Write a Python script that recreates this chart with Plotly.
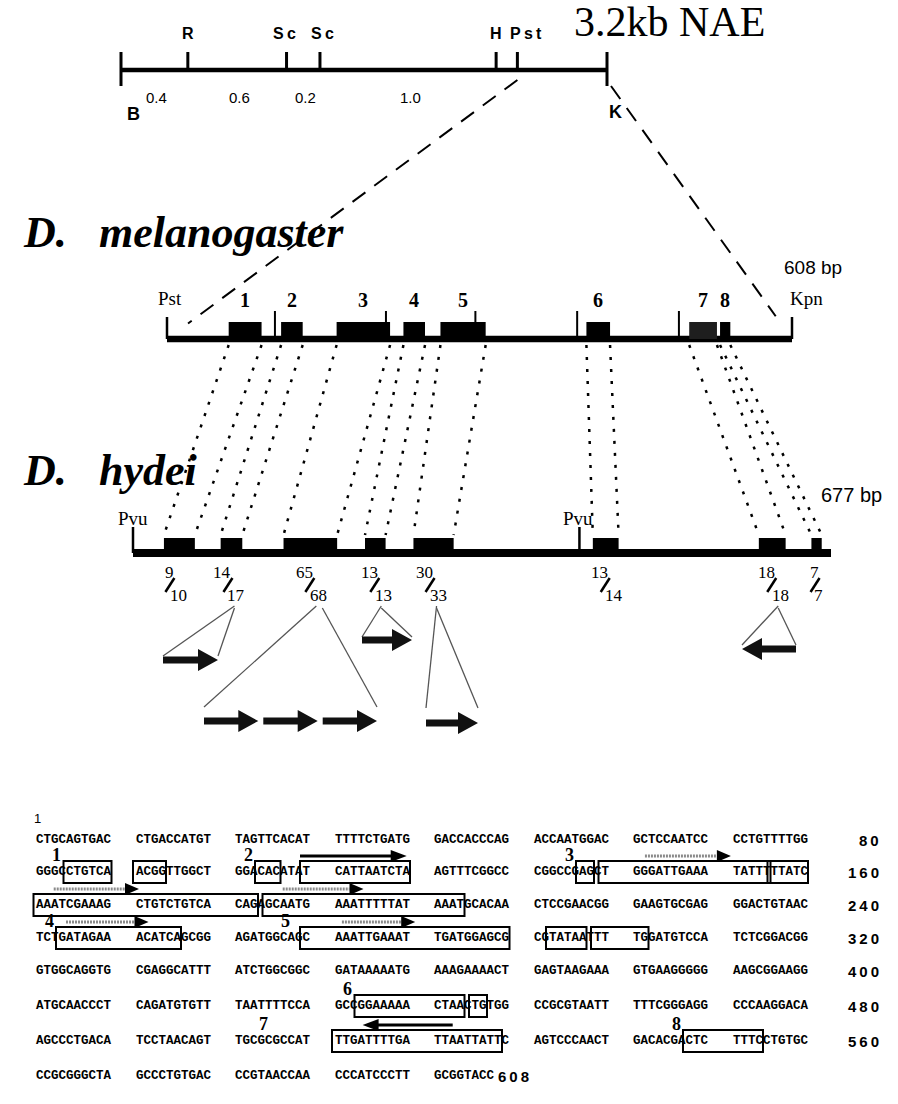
import plotly.graph_objects as go

# ======================= DATA =======================
# Top restriction map of the 3.2 kb NAE fragment (kb from the B end)
map_title = "3.2kb NAE"
map_total_kb = 3.2
map_site_labels = ["R", "Sc", "Sc", "H", "Pst"]
map_site_kb = [0.44, 1.09, 1.31, 2.47, 2.61]
map_segment_labels = ["0.4", "0.6", "0.2", "1.0"]
map_end_labels = ["B", "K"]

# D. melanogaster 608 bp fragment: conserved elements (bp)
mel_name = "melanogaster"
mel_length_bp = 608
mel_elem_labels = ["1", "2", "3", "4", "5", "6", "7", "8"]
mel_elem_start = [60, 111, 165, 230, 266, 408, 508, 538]
mel_elem_end = [92, 132, 217, 251, 310, 431, 535, 548]
mel_site_ticks = [105, 213, 300, 399, 498]
mel_end_labels = ["Pst", "Kpn"]

# D. hydei 677 bp fragment: conserved elements (bp)
hyd_name = "hydei"
hyd_length_bp = 677
hyd_elem_start = [30, 85, 146, 225, 272, 446, 607, 658]
hyd_elem_end = [60, 106, 198, 245, 311, 471, 633, 668]
hyd_pvu_bp = [0, 433]
hyd_copies_top = [9, 14, 65, 13, 30, 13, 18, 7]
hyd_copies_bottom = [10, 17, 68, 13, 33, 14, 18, 7]

# repeated motifs below hydei elements
rep_elem = [1, 2, 3, 4, 6]
rep_count = [1, 3, 1, 1, 1]
rep_dir = [1, 1, 1, 1, -1]

# D. melanogaster sequence
seq_rows = [
    "CTGCAGTGAC CTGACCATGT TAGTTCACAT TTTTCTGATG GACCACCCAG ACCAATGGAC GCTCCAATCC CCTGTTTTGG",
    "GGGCCTGTCA ACGGTTGGCT GGACACATAT CATTAATCTA AGTTTCGGCC CGGCCGAGCT GGGATTGAAA TATTTTTATC",
    "AAATCGAAAG CTGTCTGTCA CAGAGCAATG AAATTTTTAT AAATGCACAA CTCCGAACGG GAAGTGCGAG GGACTGTAAC",
    "TCTGATAGAA ACATCAGCGG AGATGGCAGC AAATTGAAAT TGATGGAGCG CGTATAATTT TGGATGTCCA TCTCGGACGG",
    "GTGGCAGGTG CGAGGCATTT ATCTGGCGGC GATAAAAATG AAAGAAAACT GAGTAAGAAA GTGAAGGGGG AAGCGGAAGG",
    "ATGCAACCCT CAGATGTGTT TAATTTTCCA GCCGGAAAAA CTAACTGTGG CCGCGTAATT TTTCGGGAGG CCCAAGGACA",
    "AGCCCTGACA TCCTAACAGT TGCGCGCCAT TTGATTTTGA TTAATTATTC AGTCCCAACT GACACGACTC TTTCCTGTGC",
    "CCGCGGGCTA GCCCTGTGAC CCGTAACCAA CCCATCCCTT GCGGTACC",
]
seq_row_end = [80, 160, 240, 320, 400, 480, 560, 608]

# boxed conserved stretches in the sequence (bp, inclusive)
box_start_bp = [85, 91, 104, 110, 137, 140, 156, 161, 185, 244, 270, 293, 299, 434, 446, 511, 548]
box_end_bp = [90, 94, 106, 120, 138, 155, 160, 183, 204, 256, 290, 297, 302, 444, 447, 529, 554]

elem_label_text = ["1", "2", "3", "4", "5", "6", "7", "8"]
elem_label_bp = [84, 103, 136, 243, 268, 433, 505, 547]

# motif arrows over boxes (box index, fraction from/to, kind, direction)
motif_box = [3, 5, 7, 8, 9, 10, 15]
motif_from = [0.0, 0.27, 0.09, 0.10, 0.08, 0.20, 0.18]
motif_to = [0.97, 0.77, 0.47, 0.50, 0.74, 0.55, 0.71]
motif_kind = ["solid", "dotted", "dotted", "dotted", "dotted", "dotted", "solid"]
motif_dir = [1, 1, 1, 1, 1, 1, -1]

# ======================= LAYOUT =======================
W, H = 898, 1104
SERIF = "Liberation Serif"
SANS = "Liberation Sans"
MONO = "Liberation Mono"

MAP_X0, MAP_X1, MAP_Y = 121, 607, 70
MEL_X0, MEL_X1, MEL_Y = 167, 792, 339
HYD_X0, HYD_X1, HYD_Y = 133, 831, 553

SEQ_X0, PITCH, SEQ_FONT = 35, 99.5, 12.5
CW = 0.6 * SEQ_FONT
ROW_Y = [840, 872, 905, 938, 971, 1006, 1041, 1076]

hyd_label_shift = [-9, -3, 0, 0, -3, 0, 0, -1]
rep_arrow_y = [660, 721, 640, 723, 649]
rep_span_x0 = [163, 204, 362, 426, 742]
rep_span_x1 = [218, 377, 412, 478, 796]
rep_tri_y = [656, 707, 637, 708, 645]

shapes = []
annotations = []


def line(x0, y0, x1, y1, w=2, color="black", dash=None):
    ln = dict(color=color, width=w)
    if dash:
        ln["dash"] = dash
    shapes.append(dict(type="line", xref="x", yref="y", x0=x0, y0=y0, x1=x1, y1=y1, line=ln))


def rect(x0, y0, x1, y1, fill="black", lc=None, lw=0):
    shapes.append(dict(type="rect", xref="x", yref="y", x0=x0, y0=y0, x1=x1, y1=y1,
                       fillcolor=fill, line=dict(color=lc or fill, width=lw)))


def poly(pts, fill="black"):
    path = "M " + " L ".join(f"{x:.1f},{y:.1f}" for x, y in pts) + " Z"
    shapes.append(dict(type="path", xref="x", yref="y", path=path, fillcolor=fill,
                       line=dict(width=0, color=fill)))


def text(x, y, s, size, family=SANS, xa="center", ya="middle", color="black"):
    annotations.append(dict(x=x, y=y, xref="x", yref="y", text=s, showarrow=False,
                            xanchor=xa, yanchor=ya, borderpad=0,
                            font=dict(size=size, family=family, color=color)))


def arrow_poly(tail, tip, y, sh, hh, hl, color="black"):
    s = 1 if tip > tail else -1
    base = tip - s * hl
    poly([(tail, y - sh), (base, y - sh), (base, y - hh), (tip, y),
          (base, y + hh), (base, y + sh), (tail, y + sh)], color)


def spaced(s):
    return "\u2009".join(s)


# ---------- top map ----------
def kbx(kb):
    return MAP_X0 + kb / map_total_kb * (MAP_X1 - MAP_X0)


text(573, 22, map_title, 42, SERIF, xa="left")
line(MAP_X0, MAP_Y, MAP_X1, MAP_Y, w=4.5)
line(MAP_X0, 52, MAP_X0, 86, w=3)
line(MAP_X1, 52, MAP_X1, 86, w=3)
site_px = [kbx(k) for k in map_site_kb]
for x in site_px:
    line(x, 52, x, MAP_Y, w=3)
label_dx = [0, -2, 3, 0, 9]
for lab, x, dx in zip(map_site_labels, site_px, label_dx):
    text(x + dx, 33, "<b>" + spaced(lab) + "</b>", 16)
bounds = [MAP_X0] + site_px[:4]
for i, lab in enumerate(map_segment_labels):
    text((bounds[i] + bounds[i + 1]) / 2 + 2, 97, lab, 15)
text(133, 114, "<b>" + map_end_labels[0] + "</b>", 18)
text(615, 112, "<b>" + map_end_labels[1] + "</b>", 18)

# dashed zoom lines from map to melanogaster fragment
pst_x = site_px[4]
for (xa, ya), (xb, yb), t in [((pst_x, 80), (MEL_X0, MEL_Y), 0.94),
                              ((MAP_X1 + 4, 86), (MEL_X1, MEL_Y), 0.91)]:
    line(xa, ya, xa + t * (xb - xa), ya + t * (yb - ya), w=2, dash="16px,11px")


# ---------- melanogaster ----------
def melx(bp):
    return MEL_X0 + bp / mel_length_bp * (MEL_X1 - MEL_X0)


text(22, 232, "<b><i>D.</i></b>", 44, SERIF, xa="left")
text(98, 232, "<b><i>" + mel_name + "</i></b>", 44, SERIF, xa="left")
text(813, 267, f"{mel_length_bp} bp", 19)
line(MEL_X0, MEL_Y, MEL_X1, MEL_Y, w=6.5)
line(MEL_X0, 317, MEL_X0, MEL_Y, w=2.5)
line(MEL_X1, 317, MEL_X1, MEL_Y, w=2.5)
for bp in mel_site_ticks:
    line(melx(bp), 311, melx(bp), MEL_Y, w=2)
for i, (a, b) in enumerate(zip(mel_elem_start, mel_elem_end)):
    rect(melx(a), 322, melx(b), MEL_Y, fill="#1e1e1e" if i == 6 else "black")
    text((melx(a) + melx(b)) / 2, 300, "<b>" + mel_elem_labels[i] + "</b>", 20, SERIF)
text(170, 298, mel_end_labels[0], 19, SERIF)
text(806, 298, mel_end_labels[1], 19, SERIF)


# ---------- hydei ----------
def hydx(bp):
    return HYD_X0 + bp / hyd_length_bp * (HYD_X1 - HYD_X0)


text(22, 470, "<b><i>D.</i></b>", 44, SERIF, xa="left")
text(98, 470, "<b><i>" + hyd_name + "</i></b>", 44, SERIF, xa="left")
text(851, 495, f"{hyd_length_bp} bp", 20)

# dotted homology connectors
for ma, mb, ha, hb in zip(mel_elem_start, mel_elem_end, hyd_elem_start, hyd_elem_end):
    for m, h in ((ma, ha), (mb, hb)):
        line(melx(m), 345, hydx(h), 535, w=2.5, dash="3px,9px")

line(HYD_X0, HYD_Y, HYD_X1, HYD_Y, w=8)
for bp in hyd_pvu_bp:
    line(hydx(bp), 527, hydx(bp), HYD_Y, w=2.5)
    text(hydx(bp) + (0 if bp == 0 else -1), 518, "Pvu", 19, SERIF)
slash_x = []
for i, (a, b) in enumerate(zip(hyd_elem_start, hyd_elem_end)):
    rect(hydx(a), 538, hydx(b), HYD_Y)
    sx = (hydx(a) + hydx(b)) / 2 + hyd_label_shift[i]
    slash_x.append(sx)
    t, bt = str(hyd_copies_top[i]), str(hyd_copies_bottom[i])
    text(sx - (6 if len(t) > 1 else 1), 572, t, 17, SERIF)
    line(sx - 5, 592, sx + 4, 578, w=2.5)
    text(sx + (8 if len(bt) > 1 else 3), 595, bt, 17, SERIF)

# repeat triangles + arrows
for k, (ei, n, d) in enumerate(zip(rep_elem, rep_count, rep_dir)):
    apex = slash_x[ei] + 6
    x0, x1, y = rep_span_x0[k], rep_span_x1[k], rep_arrow_y[k]
    line(apex, 606, x0, rep_tri_y[k], w=1.3, color="#555")
    line(apex + (6 if n > 1 else 0), 608, x1, rep_tri_y[k], w=1.3, color="#555")
    gap = 5
    wseg = (x1 - x0 - gap * (n - 1)) / n
    for j in range(n):
        a = x0 + j * (wseg + gap)
        b = a + wseg
        if d > 0:
            arrow_poly(a, b, y, 3.5, 11, 20, "#111")
        else:
            arrow_poly(b, a, y, 3.5, 11, 20, "#111")


# ---------- sequence ----------
def seq_x(bp):
    idx = (bp - 1) % 80
    return SEQ_X0 + (idx // 10) * PITCH + (idx % 10) * CW


def seq_r(bp):
    return (bp - 1) // 80


text(37, 818, "1", 13)
for r, row in enumerate(seq_rows):
    groups = row.split(" ")
    for g, grp in enumerate(groups):
        text(SEQ_X0 + g * PITCH, ROW_Y[r], "<b>" + grp + "</b>", SEQ_FONT, MONO, xa="left")
    num = "<b>" + spaced(str(seq_row_end[r])) + "</b>"
    if r < len(seq_rows) - 1:
        text(880, ROW_Y[r], num, 15, xa="right")
    else:
        text(SEQ_X0 + (len(groups) - 1) * PITCH + len(groups[-1]) * CW + 4, ROW_Y[r], num, 15, xa="left")

box_px = []
for a, b in zip(box_start_bp, box_end_bp):
    r = seq_r(a)
    x0 = seq_x(a) - 1.5
    x1 = seq_x(b) + CW + 1.5
    y0, y1 = ROW_Y[r] - 11, ROW_Y[r] + 11
    box_px.append((x0, x1, y0))
    rect(x0, y0, x1, y1, fill="rgba(0,0,0,0)", lc="black", lw=2)

for lab, bp in zip(elem_label_text, elem_label_bp):
    text(seq_x(bp) - 1, ROW_Y[seq_r(bp)] - 17, "<b>" + lab + "</b>", 18, SERIF)

for bi, f0, f1, kind, d in zip(motif_box, motif_from, motif_to, motif_kind, motif_dir):
    x0, x1, y0 = box_px[bi]
    a = x0 + f0 * (x1 - x0)
    b = x0 + f1 * (x1 - x0)
    y = y0 - 5
    tail, tip = (a, b) if d > 0 else (b, a)
    s = 1 if tip > tail else -1
    if kind == "solid":
        arrow_poly(tail, tip, y, 1.6, 6, 16, "black")
    else:
        line(tail, y, tip - s * 14, y, w=3, color="#8a8a8a", dash="2px,1px")
        poly([(tip - s * 14, y - 6), (tip, y), (tip - s * 14, y + 6)], "black")

fig = go.Figure()
fig.update_layout(
    width=W, height=H, margin=dict(l=0, r=0, t=0, b=0),
    paper_bgcolor="white", plot_bgcolor="white", showlegend=False,
    xaxis=dict(range=[0, W], visible=False, fixedrange=True),
    yaxis=dict(range=[H, 0], visible=False, fixedrange=True),
    shapes=shapes, annotations=annotations,
)
fig.write_html("out.html", config={"displayModeBar": False},
               post_script="document.body.style.margin='0';")
